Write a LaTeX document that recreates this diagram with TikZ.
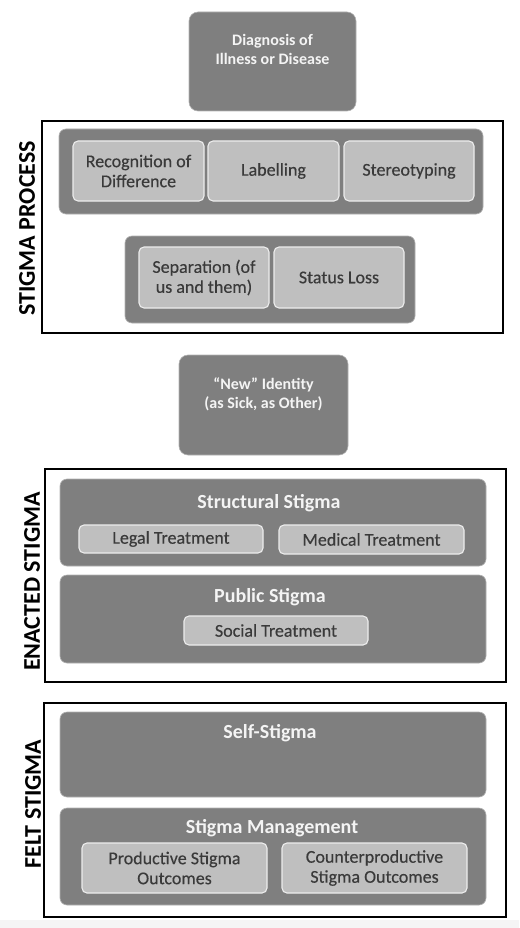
\documentclass[tikz,border=0pt]{standalone}
\usepackage{fontspec}
\setmainfont{Carlito}
\newfontfamily\itemfont[FakeBold=0.35]{Carlito}
\definecolor{grp}{HTML}{7F7F7F}
\definecolor{itm}{HTML}{BFBFBF}
\definecolor{itmtxt}{HTML}{3A3A3A}
\definecolor{wtxt}{HTML}{F4F4F4}
\definecolor{edge}{HTML}{EDEDED}
\definecolor{strip}{HTML}{F5F5F5}
\begin{document}
\begin{tikzpicture}[x=1pt,y=-1pt,
  frame/.style={draw=black,line width=1.8pt,fill=white,minimum width=#1},
  grpbox/.style={fill=grp,draw=grp!60!white,line width=0.6pt,rounded corners=7pt,inner sep=0pt},
  itembox/.style={fill=itm,draw=edge,line width=1.1pt,rounded corners=5pt,inner sep=0pt,
    text=itmtxt,align=center,font=\itemfont\fontsize{18}{20}\selectfont},
  topbox/.style={fill=grp,draw=grp!60!white,line width=0.6pt,rounded corners=9pt,inner sep=0pt,
    text=wtxt,align=center,font=\bfseries\fontsize{16}{19}\selectfont},
  gtitle/.style={text=wtxt,font=\bfseries\fontsize{20}{24}\selectfont,inner sep=0pt},
  sidelbl/.style={rotate=90,font=\bfseries\fontsize{24}{26}\selectfont,inner sep=0pt,text=black}
]
\useasboundingbox (0,0) rectangle (519,928);
\fill[strip] (0,920) rectangle (519,928);

% top
\node[topbox,minimum width=167pt,minimum height=99pt] (diag) at (272.5,61.5)
  {Diagnosis of\\Illness or Disease\\[5pt]};

% stigma process
\node[frame=461pt,minimum height=212pt,inner sep=0pt] (f1) at (272.5,227) {};
\node[grpbox,minimum width=424pt,minimum height=85pt] (g1) at (271,171.5) {};
\node[itembox,minimum width=131pt,minimum height=60pt] (recog) at (138.5,171) {Recognition of\\Difference};
\node[itembox,minimum width=131pt,minimum height=60pt] (labl) at (273.5,171) {Labelling};
\node[itembox,minimum width=130pt,minimum height=60pt] (stereo) at (409,171) {Stereotyping};
\node[grpbox,minimum width=290pt,minimum height=87pt] (g2) at (270,279.5) {};
\node[itembox,minimum width=130pt,minimum height=61pt] (sep) at (204,277.5) {Separation (of\\us and them)};
\node[itembox,minimum width=130pt,minimum height=61pt] (status) at (339,277.5) {Status Loss};
\node[sidelbl] (l1) at (27,228.5) {STIGMA PROCESS};

% new identity
\node[topbox,minimum width=169pt,minimum height=100pt] (newid) at (263.5,405)
  {``New'' Identity\\(as Sick, as Other)\\[5pt]};

% enacted stigma
\node[frame=461pt,minimum height=213pt,inner sep=0pt] (f2) at (275.5,575.5) {};
\node[grpbox,minimum width=426pt,minimum height=87pt] (g3) at (273,522.5) {};
\node[gtitle] (t3) at (269,503) {Structural Stigma};
\node[itembox,minimum width=184pt,minimum height=28pt] (legal) at (171,539) {Legal Treatment};
\node[itembox,minimum width=185pt,minimum height=29pt] (medical) at (371.5,539.5) {Medical Treatment};
\node[grpbox,minimum width=426pt,minimum height=88pt] (g4) at (273,619) {};
\node[gtitle] (t4) at (270,597) {Public Stigma};
\node[itembox,minimum width=184pt,minimum height=29pt] (social) at (276,630.5) {Social Treatment};
\node[sidelbl] (l2) at (32,581.5) {ENACTED STIGMA};

% felt stigma
\node[frame=462pt,minimum height=214pt,inner sep=0pt] (f3) at (275,810) {};
\node[grpbox,minimum width=426pt,minimum height=85pt] (g5) at (273,754.5) {};
\node[gtitle] (t5) at (270,733) {Self-Stigma};
\node[grpbox,minimum width=426pt,minimum height=97pt] (g6) at (273,856.5) {};
\node[gtitle] (t6) at (272,828) {Stigma Management};
\node[itembox,minimum width=185pt,minimum height=50pt] (prod) at (174.5,868) {Productive Stigma\\Outcomes};
\node[itembox,minimum width=185pt,minimum height=50pt] (counter) at (374.5,868) {Counterproductive\\Stigma Outcomes};
\node[sidelbl] (l3) at (33,804) {FELT STIGMA};
\end{tikzpicture}
\end{document}
